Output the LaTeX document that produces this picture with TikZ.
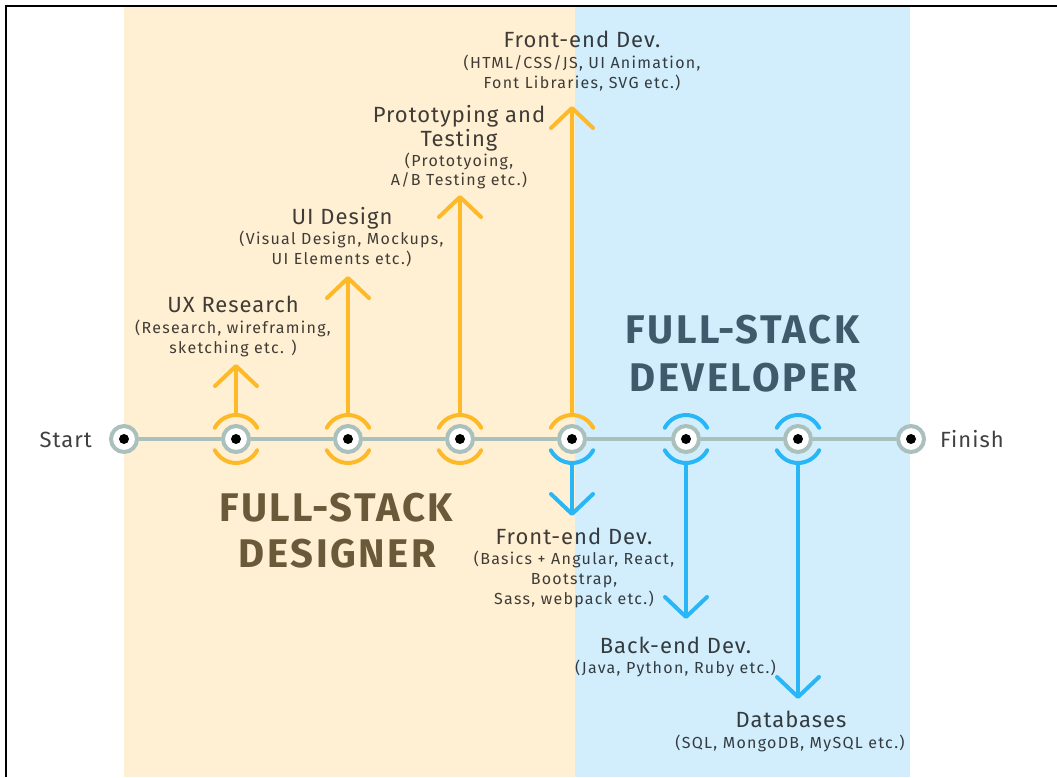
\documentclass[tikz,border=0pt]{standalone}
\usepackage{fontspec}
\setmainfont{Fira Sans}
\newfontfamily\stagefont[LetterSpace=4.5]{Fira Sans}
\newfontfamily\notefont[LetterSpace=8]{Fira Sans}
\newfontfamily\rolefont[LetterSpace=6.5]{Fira Sans}
\usetikzlibrary{calc,arrows.meta}

\definecolor{cream}{HTML}{FFF0D4}
\definecolor{sky}{HTML}{D2EEFD}
\definecolor{amber}{HTML}{FDB927}
\definecolor{azure}{HTML}{29B6F6}
\definecolor{rail}{HTML}{A9C0BC}
\definecolor{pin}{HTML}{1C1C1C}
\definecolor{designer}{HTML}{6B5A3A}
\definecolor{developer}{HTML}{3E5A6B}

\begin{document}
\begin{tikzpicture}[x=1pt,y=1pt,
  stop/.style={circle, draw=rail, line width=4pt, fill=white,
    minimum size=26pt, inner sep=0pt},
  track/.style={draw=rail, line width=4pt},
  uparc/.style={draw=amber, line width=4pt, line cap=round},
  downarc/.style={draw=azure, line width=4pt, line cap=round},
  chev/.style={-{Straight Barb[length=20pt,width=42pt,line width=4pt,round]}},
  title/.style={font=\stagefont\fontsize{22}{26}\selectfont, text=black,
    text opacity=.75, anchor=base, inner sep=0pt},
  note/.style={font=\notefont\fontsize{16}{19}\selectfont, text=black,
    text opacity=.75, anchor=base, inner sep=0pt},
  role/.style={font=\rolefont\bfseries\fontsize{40}{44}\selectfont,
    anchor=base, inner sep=0pt}]

\useasboundingbox (0,0) rectangle (1057,-777);

% coloured columns
\fill[cream] (124,-7) rectangle (575,-777);
\fill[sky] (575,-7) rectangle (910,-777);

% frame
\draw[line width=2.5pt] (1057,-6) -- (6,-6) -- (6,-777);

% stops along the rail
\node[stop] (s0) at (124,-439) {};
\node[stop] (s1) at (236,-439) {};
\node[stop] (s2) at (348,-439) {};
\node[stop] (s3) at (460,-439) {};
\node[stop] (s4) at (572,-439) {};
\node[stop] (s5) at (686,-439) {};
\node[stop] (s6) at (798,-439) {};
\node[stop] (s7) at (911,-439) {};
\foreach \s in {s0,s1,s2,s3,s4,s5,s6,s7}
  \fill[pin] (\s.center) circle[radius=5];

\draw[track] (s0) -- (s1);
\draw[track] (s1) -- (s2);
\draw[track] (s2) -- (s3);
\draw[track] (s3) -- (s4);
\draw[track] (s4) -- (s5);
\draw[track] (s5) -- (s6);
\draw[track] (s6) -- (s7);

% arcs around the stops
\foreach \s in {s1,s2,s3,s4}
  \draw[uparc] ([shift={(28:24)}]\s.center) arc[start angle=28, end angle=152, radius=24];
\foreach \s in {s1,s2,s3}
  \draw[uparc] ([shift={(208:24)}]\s.center) arc[start angle=208, end angle=332, radius=24];
\foreach \s in {s4,s5,s6}
  \draw[downarc] ([shift={(208:24)}]\s.center) arc[start angle=208, end angle=332, radius=24];
\foreach \s in {s5,s6}
  \draw[downarc] ([shift={(28:24)}]\s.center) arc[start angle=28, end angle=152, radius=24];

% branch ends
\coordinate (u1) at (236,-364);
\coordinate (u2) at (348,-276);
\coordinate (u3) at (460,-195);
\coordinate (u4) at (572,-106);
\coordinate (d4) at (572,-516);
\coordinate (d5) at (686,-619);
\coordinate (d6) at (798,-699);

\draw[uparc, line cap=butt, chev] ([yshift=24pt]s1.center) -- (u1);
\draw[uparc, line cap=butt, chev] ([yshift=24pt]s2.center) -- (u2);
\draw[uparc, line cap=butt, chev] ([yshift=24pt]s3.center) -- (u3);
\draw[uparc, line cap=butt, chev] ([yshift=24pt]s4.center) -- (u4);
\draw[downarc, line cap=butt, chev] ([yshift=-24pt]s4.center) -- (d4);
\draw[downarc, line cap=butt, chev] ([yshift=-24pt]s5.center) -- (d5);
\draw[downarc, line cap=butt, chev] ([yshift=-24pt]s6.center) -- (d6);

% end labels
\node[title, anchor=base east] (start) at (92,-447) {Start};
\node[title, anchor=base west] (finish) at (940,-447) {Finish};

% designer skills
\node[title] (ux-t) at (233,-312) {UX Research};
\node[note] (ux-1) at (233,-333) {(Research, wireframing,};
\node[note] (ux-2) at (233,-353) {sketching etc. )};

\node[title] (ui-t) at (342,-224) {UI Design};
\node[note] (ui-1) at (341.5,-244) {(Visual Design, Mockups,};
\node[note] (ui-2) at (341.5,-264) {UI Elements etc.)};

\node[title] (pt-t1) at (459,-122) {Prototyping and};
\node[title] (pt-t2) at (459,-146) {Testing};
\node[note] (pt-1) at (459,-166) {(Prototyoing,};
\node[note] (pt-2) at (459,-185) {A/B Testing etc.)};

\node[title] (fe-t) at (582,-47) {Front-end Dev.};
\node[note] (fe-1) at (582,-68) {(HTML/CSS/JS, UI Animation,};
\node[note] (fe-2) at (582,-88) {Font Libraries, SVG etc.)};

% developer skills
\node[title] (fd-t) at (574,-544) {Front-end Dev.};
\node[note] (fd-1) at (574,-564) {(Basics + Angular, React,};
\node[note] (fd-2) at (574,-584) {Bootstrap,};
\node[note] (fd-3) at (574,-604) {Sass, webpack etc.)};

\node[title] (be-t) at (675.5,-653) {Back-end Dev.};
\node[note] (be-1) at (675.5,-673) {(Java, Python, Ruby etc.)};

\node[title] (db-t) at (791,-727) {Databases};
\node[note] (db-1) at (790,-748) {(SQL, MongoDB, MySQL etc.)};

% role headings
\node[role, text=designer] (des-1) at (336,-521) {FULL-STACK};
\node[role, text=designer] (des-2) at (337.5,-567) {DESIGNER};
\node[role, text=developer] (dev-1) at (742.5,-343) {FULL-STACK};
\node[role, text=developer] (dev-2) at (743.5,-391) {DEVELOPER};
\end{tikzpicture}
\end{document}
